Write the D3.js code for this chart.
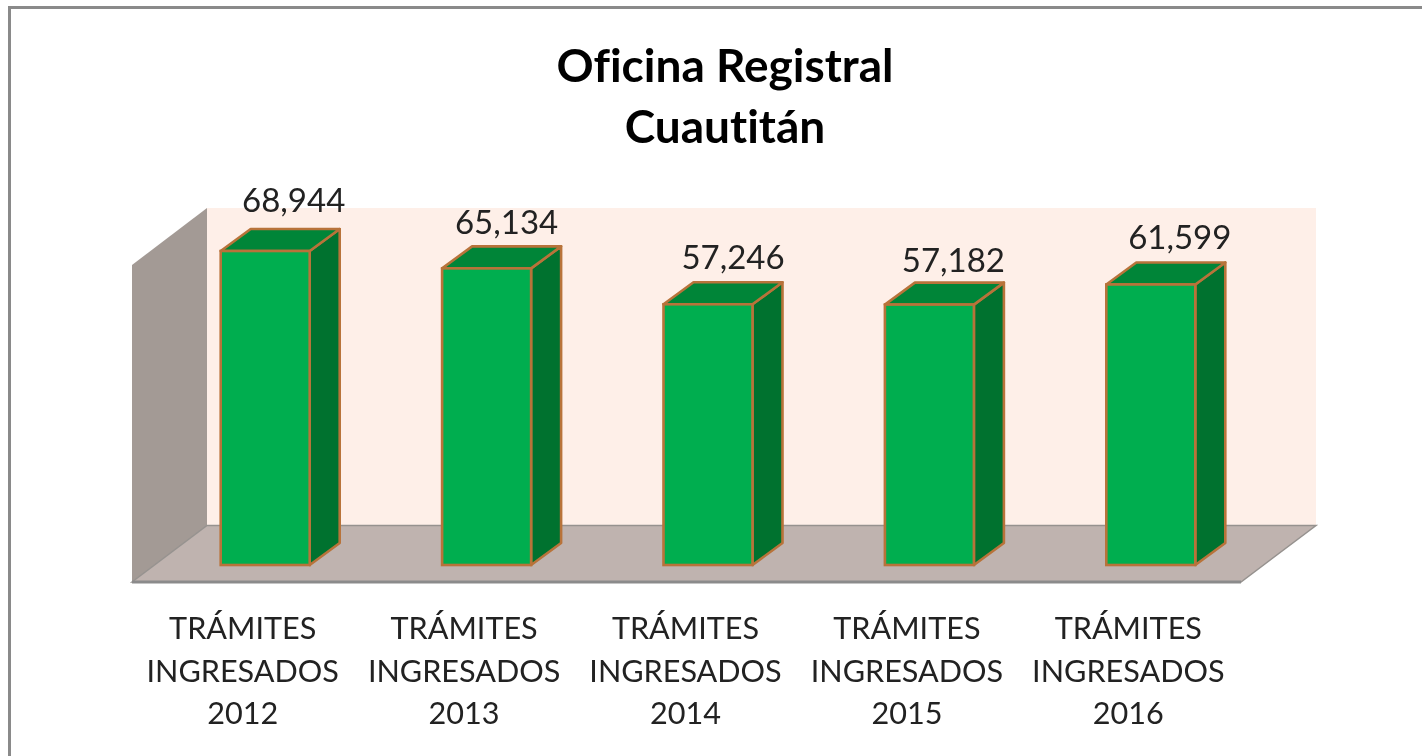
<!DOCTYPE html>
<html>
<head>
<meta charset="utf-8">
<script src="https://d3js.org/d3.v7.min.js"></script>
<style>
html,body{margin:0;padding:0;background:#fff;overflow:hidden}
svg{display:block;filter:blur(0.45px)}
text{font-family:Lato,"Open Sans",sans-serif;fill:#222;font-variant-ligatures:none}
</style>
</head>
<body>
<svg id="c" width="1422" height="756"></svg>
<script>
const titleLines = ["Oficina Registral", "Cuautitán"];
const years = ["2012", "2013", "2014", "2015", "2016"];
const values = [68944, 65134, 57246, 57182, 61599];
const categoryLines = ["TRÁMITES", "INGRESADOS"];

const W = 1422, H = 756;
const plot = {left: 132, right: 1239, floorRight: 1241, floorFront: 582, barBase: 565, depthX: 75, depthY: 56.5};
const barDepth = {x: 30, y: 22};
const barWidth = 89;
// Hand placement of the data labels, as in the original chart
const labelDx = [28.5, 20, 25, 24, 29];
const labelDy = [39, 34, 35, 33, 35];

const svg = d3.select("#c");
const x = d3.scaleBand().domain(years).range([plot.left, plot.right]);
const y = d3.scaleLinear().domain([0, 70000]).range([plot.barBase, plot.barBase - 318.8]);
const line = d3.line();

// frame
svg.append("rect").attr("x", 9.5).attr("y", 7.5).attr("width", W + 20).attr("height", H + 20)
  .attr("fill", "#fff").attr("stroke", "#8a8a8a").attr("stroke-width", 3);

// back wall
svg.append("rect")
  .attr("x", plot.left + plot.depthX).attr("y", 208)
  .attr("width", plot.floorRight - plot.left).attr("height", plot.floorFront - plot.depthY - 208)
  .attr("fill", "#FEEFE8");

// side wall
svg.append("path").attr("d", line([
  [plot.left, 265], [plot.left + plot.depthX, 208],
  [plot.left + plot.depthX, plot.floorFront - plot.depthY], [plot.left, plot.floorFront]
]) + "Z").attr("fill", "#A39A95");

// floor
svg.append("path").attr("d", line([
  [plot.left, plot.floorFront], [plot.left + plot.depthX, plot.floorFront - plot.depthY],
  [plot.floorRight + plot.depthX, plot.floorFront - plot.depthY], [plot.floorRight, plot.floorFront]
]) + "Z").attr("fill", "#BFB3AF").attr("stroke", "#96928f").attr("stroke-width", 1.5);
svg.append("line").attr("x1", plot.left).attr("x2", plot.floorRight)
  .attr("y1", plot.floorFront).attr("y2", plot.floorFront)
  .attr("stroke", "#8b8b8b").attr("stroke-width", 3);

// bars
const stroke = "#B8733A";
const rows = years.map((yr, i) => ({yr, v: values[i], i}));
const g = svg.selectAll("g.bar").data(rows).join("g").attr("class", "bar");
const x0 = d => x(d.yr) + x.bandwidth() / 2 + 22.5 - barWidth / 2;
const sw = 2.6;

g.append("path").attr("fill", "#00722F").attr("stroke", stroke).attr("stroke-width", sw)
  .attr("stroke-linejoin", "round")
  .attr("d", d => line([
    [x0(d) + barWidth, y(d.v)], [x0(d) + barWidth + barDepth.x, y(d.v) - barDepth.y],
    [x0(d) + barWidth + barDepth.x, y(0) - barDepth.y], [x0(d) + barWidth, y(0)]
  ]) + "Z");
g.append("path").attr("fill", "#008538").attr("stroke", stroke).attr("stroke-width", sw)
  .attr("stroke-linejoin", "round")
  .attr("d", d => line([
    [x0(d), y(d.v)], [x0(d) + barDepth.x, y(d.v) - barDepth.y],
    [x0(d) + barWidth + barDepth.x, y(d.v) - barDepth.y], [x0(d) + barWidth, y(d.v)]
  ]) + "Z");
g.append("rect").attr("fill", "#00AE4F").attr("stroke", stroke).attr("stroke-width", sw)
  .attr("x", x0).attr("y", d => y(d.v)).attr("width", barWidth).attr("height", d => y(0) - y(d.v));

// data labels
g.append("text").attr("text-anchor", "middle").attr("font-size", 33)
  .attr("x", d => x0(d) + barWidth / 2 + labelDx[d.i])
  .attr("y", d => y(d.v) - labelDy[d.i])
  .text(d => d3.format(",")(d.v));

// category labels
const lab = svg.selectAll("text.cat").data(rows).join("text").attr("class", "cat")
  .attr("text-anchor", "middle").attr("font-size", 30.6);
[0, 1].forEach(k => lab.append("tspan")
  .attr("x", d => x(d.yr) + x.bandwidth() / 2)
  .attr("y", 639 + k * 42.5).text(categoryLines[k]));
lab.append("tspan").attr("x", d => x(d.yr) + x.bandwidth() / 2).attr("y", 724).text(d => d.yr);

// title
svg.append("g").selectAll("text").data(titleLines).join("text")
  .attr("x", 725).attr("y", (d, i) => 82 + i * 61)
  .attr("text-anchor", "middle").attr("font-size", 46).attr("font-weight", 700)
  .style("fill", "#000").text(d => d);
</script>
</body>
</html>
